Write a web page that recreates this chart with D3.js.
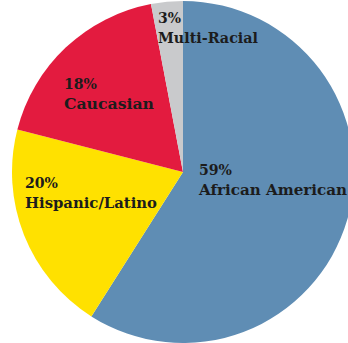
<!DOCTYPE html>
<html>
<head>
<meta charset="utf-8">
<script src="https://cdn.jsdelivr.net/npm/d3@7"></script>
<style>
  html, body { margin: 0; padding: 0; background: #ffffff; }
  svg { display: block; }
</style>
</head>
<body>
<svg id="chart" width="348" height="343"></svg>
<script>
// Share of students by race/ethnicity
const groups  = ["African American", "Hispanic/Latino", "Caucasian", "Multi-Racial"];
const shares  = [59, 20, 18, 3];
const colours = ["#5f8db4", "#ffe100", "#e31b3f", "#c9cacc"];

const width = 348, height = 343;
const cx = 183, cy = 172, radius = 171;

const svg = d3.select("#chart");
const g = svg.append("g").attr("transform", `translate(${cx},${cy})`);

const pie = d3.pie().sort(null).value(d => d.value);
const arc = d3.arc().innerRadius(0).outerRadius(radius);

const data = groups.map((name, i) => ({ name, value: shares[i], colour: colours[i] }));
const arcs = pie(data);

g.selectAll("path.slice")
  .data(arcs)
  .join("path")
  .attr("class", "slice")
  .attr("d", arc)
  .attr("fill", d => d.data.colour);

// Label anchors (first-line baseline, left aligned), relative to the pie centre
const labelSpots = {
  "African American": { x: 16,   y: 3,    w1: 33, w2: 148 },
  "Hispanic/Latino":  { x: -158, y: 16,   w1: 33, w2: 132 },
  "Caucasian":        { x: -119, y: -83,  w1: 33, w2: 90 },
  "Multi-Racial":     { x: -25,  y: -149, w1: 23, w2: 100 }
};

const labels = g.selectAll("text.label")
  .data(arcs)
  .join("text")
  .attr("class", "label")
  .attr("font-family", "'DejaVu Serif', 'Liberation Serif', serif")
  .attr("font-weight", "bold")
  .attr("font-size", 14)
  .attr("fill", "#1c1c1c");

labels.append("tspan")
  .attr("x", d => labelSpots[d.data.name].x)
  .attr("y", d => labelSpots[d.data.name].y)
  .attr("textLength", d => labelSpots[d.data.name].w1)
  .attr("lengthAdjust", "spacingAndGlyphs")
  .text(d => `${d.data.value}%`);

labels.append("tspan")
  .attr("x", d => labelSpots[d.data.name].x)
  .attr("y", d => labelSpots[d.data.name].y + 19.5)
  .attr("textLength", d => labelSpots[d.data.name].w2)
  .attr("lengthAdjust", "spacingAndGlyphs")
  .text(d => d.data.name);
</script>
</body>
</html>
